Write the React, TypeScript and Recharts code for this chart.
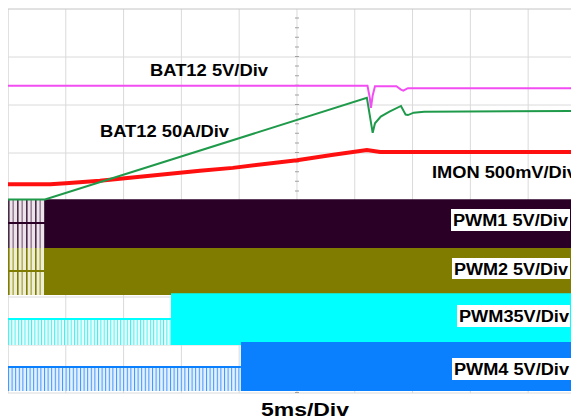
import {
  ComposedChart,
  Line,
  Area,
  XAxis,
  YAxis,
  ReferenceLine,
} from "recharts";

// screen units: x in 5ms divisions, y in vertical divisions (0 = bottom)
const xMax = 9.88; // right edge of the capture is cut a bit short of 10 div
const gridX = [0, 1, 2, 3, 4, 5, 6, 7, 8, 9];
const gridY = [0, 1, 2, 3, 4, 5, 6, 7, 8];

// BAT12 voltage, magenta
const bat12Volt: [number, number][] = [
  [0, 6.4], [6.22, 6.4], [6.26, 6.15], [6.28, 5.94], [6.31, 6.2], [6.35, 6.39],
  [6.72, 6.39], [6.8, 6.32], [6.84, 6.3], [6.92, 6.35], [9.88, 6.35],
];

// BAT12 current, green
const bat12Amp: [number, number][] = [
  [0, 4.03], [0.64, 4.03], [6.21, 6.15], [6.31, 5.42], [6.35, 5.62],
  [6.45, 5.76], [6.6, 5.86], [6.8, 5.98], [6.88, 5.8], [6.92, 5.79],
  [7.02, 5.84], [7.2, 5.86], [9.88, 5.875],
];

// IMON, red
const imon: [number, number][] = [
  [0, 4.35], [0.73, 4.35], [1.0, 4.37], [1.59, 4.42], [2.5, 4.53],
  [3.32, 4.63], [3.89, 4.69], [5.0, 4.85], [5.6, 4.96], [6.21, 5.06],
  [6.44, 5.02], [9.88, 5.02],
];

// PWM channels
const pwmLabels = ["PWM1 5V/Div", "PWM2 5V/Div", "PWM35V/Div", "PWM4 5V/Div"];
const pwmLow = [3.02, 2.04, 1.0, 0.04];
const pwmHigh = [4.035, 3.02, 2.08, 1.06];
const pwmStripeTop = [4.035, 3.02, 1.54, 0.54];
const pwmMid = [3.54, 2.54, 1.54, 0.54];
const pwmSwitchAt = [0.64, 0.64, 2.82, 4.03];
const pwmColors = ["#2b0027", "#7f7c00", "#00ffff", "#0a80ff"];
const pwmPatterns = ["st1", "st2", "st3", "st4"];

const toRows = (pts: [number, number][]) => pts.map(([t, v]) => ({ t, v }));

const font = '"Liberation Sans", Arial, sans-serif';

export default function App() {
  return (
    <div style={{ position: "relative", width: 571, height: 411 }}>
      <svg width={0} height={0} style={{ position: "absolute" }}>
        <defs>
          <pattern id="st1" patternUnits="userSpaceOnUse" width={9} height={10}>
            <rect width={9} height={10} fill="#ece4ea" />
            <rect x={0} width={1.6} height={10} fill="#4a2a46" />
            <rect x={4.5} width={1.3} height={10} fill="#8a6c86" />
          </pattern>
          <pattern id="st2" patternUnits="userSpaceOnUse" width={9} height={10}>
            <rect width={9} height={10} fill="#eeeed6" />
            <rect x={0} width={1.6} height={10} fill="#7f7c00" />
            <rect x={4.5} width={1.3} height={10} fill="#a8a640" />
          </pattern>
          <pattern id="st3" patternUnits="userSpaceOnUse" width={3.3} height={10}>
            <rect width={3.3} height={10} fill="#ecffff" />
            <rect x={0} width={1} height={10} fill="#40f0f0" />
          </pattern>
          <pattern id="st4" patternUnits="userSpaceOnUse" width={3.6} height={10}>
            <rect width={3.6} height={10} fill="#e4f0ff" />
            <rect x={0} width={1} height={10} fill="#3b95ff" />
          </pattern>
        </defs>
      </svg>
      <ComposedChart width={571} height={411} margin={{ top: 1, right: 0, bottom: 0, left: 0 }}>
        <XAxis
          dataKey="t"
          type="number"
          domain={[0, xMax]}
          ticks={gridX}
          allowDataOverflow
          height={26}
          tick={false}
          tickLine={false}
          axisLine={false}
        />
        <YAxis
          type="number"
          domain={[0, 8]}
          ticks={gridY}
          width={0}
          tick={false}
          tickLine={false}
          axisLine={false}
        />
        {gridX.map((x) => (
          <ReferenceLine key={"gx" + x} x={x} stroke={x === 0 ? "#c4c4c4" : "#dadada"} zIndex={-20} />
        ))}
        {gridY.map((y) => (
          <ReferenceLine key={"gy" + y} y={y} stroke={y === 8 ? "#c4c4c4" : "#dadada"} zIndex={-20} />
        ))}
        <ReferenceLine x={5} stroke="#a0a0a0" strokeWidth={4} strokeDasharray="1 8.6" zIndex={-10} />
        {pwmLabels.map((name, i) => (
          <Area
            key={name + "-stripe"}
            data={[
              { t: 0, r: [pwmLow[i], pwmStripeTop[i]] },
              { t: pwmSwitchAt[i], r: [pwmLow[i], pwmStripeTop[i]] },
            ]}
            dataKey="r"
            type="linear"
            stroke="none"
            fill={`url(#${pwmPatterns[i]})`}
            fillOpacity={1}
            isAnimationActive={false}
          />
        ))}
        {pwmLabels.map((name, i) => (
          <Line
            key={name + "-mid"}
            data={[
              { t: 0, v: pwmMid[i] },
              { t: pwmSwitchAt[i], v: pwmMid[i] },
            ]}
            dataKey="v"
            type="linear"
            stroke={pwmColors[i]}
            strokeWidth={2}
            dot={false}
            isAnimationActive={false}
          />
        ))}
        {pwmLabels.map((name, i) => (
          <Area
            key={name + "-solid"}
            data={[
              { t: pwmSwitchAt[i], r: [pwmLow[i], pwmHigh[i]] },
              { t: xMax, r: [pwmLow[i], pwmHigh[i]] },
            ]}
            dataKey="r"
            type="linear"
            stroke="none"
            fill={pwmColors[i]}
            fillOpacity={1}
            isAnimationActive={false}
          />
        ))}
        <Line
          data={toRows(imon)}
          dataKey="v"
          type="linear"
          stroke="#ff1010"
          strokeWidth={4}
          dot={false}
          isAnimationActive={false}
        />
        <Line
          data={toRows(bat12Volt)}
          dataKey="v"
          type="linear"
          stroke="#f24df2"
          strokeWidth={2}
          dot={false}
          isAnimationActive={false}
        />
        <Line
          data={toRows(bat12Amp)}
          dataKey="v"
          type="linear"
          stroke="#1f9a4a"
          strokeWidth={2}
          dot={false}
          isAnimationActive={false}
        />
      </ComposedChart>
      <svg
        width={571}
        height={411}
        style={{ position: "absolute", left: 0, top: 0, pointerEvents: "none" }}
        fontFamily={font}
        fontWeight="bold"
      >
        <text x={142} y={68} fontSize={16} textLength={118} lengthAdjust="spacingAndGlyphs">
          BAT12 5V/Div
        </text>
        <text x={92} y={129} fontSize={16} textLength={129} lengthAdjust="spacingAndGlyphs">
          BAT12 50A/Div
        </text>
        <text x={424} y={170} fontSize={16} textLength={145} lengthAdjust="spacingAndGlyphs">
          IMON 500mV/Div
        </text>
        <rect x={443} y={201} width={119} height={22} fill="#fff" />
        <text x={445} y={218} fontSize={16} textLength={115} lengthAdjust="spacingAndGlyphs">
          {pwmLabels[0]}
        </text>
        <rect x={444} y={250} width={118} height={21} fill="#fff" />
        <text x={446} y={267} fontSize={16} textLength={114} lengthAdjust="spacingAndGlyphs">
          {pwmLabels[1]}
        </text>
        <rect x={449} y={297} width={113} height={22} fill="#fff" />
        <text x={451} y={314} fontSize={16} textLength={110} lengthAdjust="spacingAndGlyphs">
          {pwmLabels[2]}
        </text>
        <rect x={444} y={350} width={119} height={22} fill="#fff" />
        <text x={446} y={367} fontSize={16} textLength={115} lengthAdjust="spacingAndGlyphs">
          {pwmLabels[3]}
        </text>
        <text x={253} y={408} fontSize={19} textLength={88} lengthAdjust="spacingAndGlyphs">
          5ms/Div
        </text>
      </svg>
    </div>
  );
}
